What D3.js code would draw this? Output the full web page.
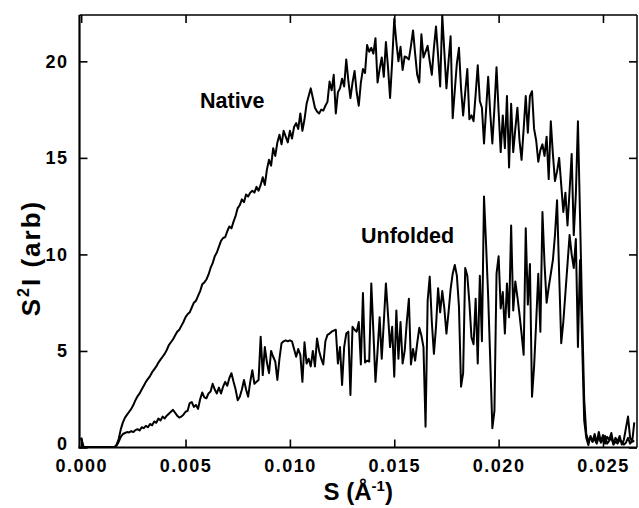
<!DOCTYPE html>
<html><head><meta charset="utf-8">
<script src="https://cdn.jsdelivr.net/npm/d3@7"></script>
<style>body{margin:0;background:#fff}svg{display:block}</style>
</head><body><svg id="c" width="639" height="508"></svg>
<script>
const sValues=[
0.0000,0.0001,0.0002,0.0003,0.0004,0.0005,0.0006,0.0007,0.0008,0.0009,
0.0010,0.0011,0.0012,0.0013,0.0014,0.0015,0.0016,0.0017,0.0018,0.0019,
0.0020,0.0021,0.0022,0.0023,0.0024,0.0025,0.0026,0.0027,0.0028,0.0029,
0.0030,0.0031,0.0032,0.0033,0.0034,0.0035,0.0036,0.0037,0.0038,0.0039,
0.0040,0.0041,0.0042,0.0043,0.0044,0.0045,0.0046,0.0047,0.0048,0.0049,
0.0050,0.0051,0.0052,0.0053,0.0054,0.0055,0.0056,0.0057,0.0058,0.0059,
0.0060,0.0061,0.0062,0.0063,0.0064,0.0065,0.0066,0.0067,0.0068,0.0069,
0.0070,0.0071,0.0072,0.0073,0.0074,0.0075,0.0076,0.0077,0.0078,0.0079,
0.0080,0.0081,0.0082,0.0083,0.0084,0.0085,0.0086,0.0087,0.0088,0.0089,
0.0090,0.0091,0.0092,0.0093,0.0094,0.0095,0.0096,0.0097,0.0098,0.0099,
0.0100,0.0101,0.0102,0.0103,0.0104,0.0105,0.0106,0.0107,0.0108,0.0109,
0.0110,0.0111,0.0112,0.0113,0.0114,0.0115,0.0116,0.0117,0.0118,0.0119,
0.0120,0.0121,0.0122,0.0123,0.0124,0.0125,0.0126,0.0127,0.0128,0.0129,
0.0130,0.0131,0.0132,0.0133,0.0134,0.0135,0.0136,0.0137,0.0138,0.0139,
0.0140,0.0141,0.0142,0.0143,0.0144,0.0145,0.0146,0.0147,0.0148,0.0149,
0.0150,0.0151,0.0152,0.0153,0.0154,0.0155,0.0156,0.0157,0.0158,0.0159,
0.0160,0.0161,0.0162,0.0163,0.0164,0.0165,0.0166,0.0167,0.0168,0.0169,
0.0170,0.0171,0.0172,0.0173,0.0174,0.0175,0.0176,0.0177,0.0178,0.0179,
0.0180,0.0181,0.0182,0.0183,0.0184,0.0185,0.0186,0.0187,0.0188,0.0189,
0.0190,0.0191,0.0192,0.0193,0.0194,0.0195,0.0196,0.0197,0.0198,0.0199,
0.0200,0.0201,0.0202,0.0203,0.0204,0.0205,0.0206,0.0207,0.0208,0.0209,
0.0210,0.0211,0.0212,0.0213,0.0214,0.0215,0.0216,0.0217,0.0218,0.0219,
0.0220,0.0221,0.0222,0.0223,0.0224,0.0225,0.0226,0.0227,0.0228,0.0229,
0.0230,0.0231,0.0232,0.0233,0.0234,0.0235,0.0236,0.0237,0.0238,0.0239,
0.0240,0.0241,0.0242,0.0243,0.0244,0.0245,0.0246,0.0247,0.0248,0.0249,
0.0250,0.0251,0.0252,0.0253,0.0254,0.0255,0.0256,0.0257,0.0258,0.0259,
0.0260,0.0261,0.0262,0.0263,0.0264,0.0265];

const nativeValues=[
0.5,0.05,0.02,0.02,0.02,0.02,0.02,0.02,0.02,0.02,
0.02,0.02,0.02,0.02,0.02,0.02,0.02,0.15,0.45,0.95,
1.3,1.55,1.7,1.85,2.0,2.2,2.45,2.65,2.8,3.0,
3.2,3.4,3.55,3.7,3.9,4.05,4.2,4.4,4.55,4.7,
4.85,5.05,5.3,5.45,5.6,5.8,6.0,6.1,6.3,6.5,
6.75,6.9,7.0,7.25,7.5,7.6,7.85,8.1,8.45,8.55,
8.7,8.95,9.3,9.55,9.9,10.1,10.4,10.7,10.85,10.9,
11.2,11.45,11.35,11.7,12.0,12.4,12.55,12.85,12.7,13.1,
13.0,13.2,13.3,13.2,13.5,13.3,13.6,14.0,13.6,14.4,
14.9,14.6,15.5,15.1,15.8,16.2,15.7,16.4,16.1,15.8,
16.4,16.0,16.6,16.8,16.5,17.3,16.4,17.0,17.8,18.2,
18.6,18.1,17.6,17.4,17.3,17.5,17.45,17.7,17.9,18.95,
18.5,19.3,17.3,18.4,18.6,19.1,18.7,20.1,19.0,18.1,
18.9,19.5,18.4,17.7,18.9,19.6,19.4,20.85,20.5,20.7,
20.4,21.2,18.9,19.6,20.2,19.2,21.0,19.7,18.1,20.0,
22.2,21.0,20.0,20.75,19.55,20.25,20.2,20.1,20.8,21.6,
20.4,19.3,18.9,21.4,20.2,20.5,20.8,20.0,19.3,20.7,
21.8,20.3,18.7,22.4,20.5,18.6,20.0,21.3,17.05,18.5,
19.9,20.7,18.6,17.2,18.4,19.6,17.0,17.2,16.9,18.3,
19.8,17.95,17.6,15.75,17.5,19.2,17.3,15.75,17.6,19.7,
17.4,15.3,17.2,15.5,18.2,14.5,17.8,15.3,16.5,17.6,
15.9,14.9,16.5,18.2,16.3,18.2,18.45,16.5,15.9,14.8,
15.4,15.7,15.1,16.1,13.9,16.9,15.2,13.8,14.3,15.0,
13.6,12.2,13.2,11.5,13.3,15.2,11.0,13.1,16.9,12.0,
7.0,2.5,0.7,0.35,0.5,0.3,0.45,0.2,0.55,0.25,
0.4,0.6,0.2,0.35,0.5,0.15,0.3,0.2,0.4,0.3,
0.15,0.25,0.5,0.2,0.35,0.3];

const unfoldedValues=[
0.5,0.05,0.02,0.02,0.02,0.02,0.02,0.02,0.02,0.02,
0.02,0.02,0.02,0.02,0.02,0.02,0.02,0.1,0.3,0.55,
0.7,0.75,0.8,0.78,0.85,0.8,0.9,0.95,0.88,1.05,
1.0,1.12,1.05,1.22,1.15,1.35,1.28,1.5,1.4,1.6,
1.5,1.65,1.75,1.85,1.95,1.8,1.65,1.55,1.6,1.7,
1.85,1.9,2.3,2.35,2.1,2.2,2.0,2.5,2.85,2.6,
2.55,2.8,2.9,3.3,3.0,2.8,3.1,2.8,3.15,3.4,
3.2,3.6,3.85,3.4,3.0,2.45,2.63,3.0,3.5,3.0,
2.63,3.4,4.0,3.3,3.4,3.5,5.74,3.75,5.2,4.4,
3.85,5.0,4.7,4.45,3.5,4.6,5.4,5.5,5.55,5.5,
5.55,5.5,5.1,4.7,5.1,4.8,3.4,5.45,4.35,4.6,
4.2,5.0,4.2,5.65,5.0,4.6,4.3,5.5,5.83,5.9,
6.0,6.05,6.1,4.35,5.2,3.24,5.2,5.9,6.0,2.72,
6.25,6.1,6.0,6.5,4.3,8.0,4.4,4.5,4.45,8.5,
6.0,3.4,5.0,6.75,4.6,6.5,8.5,6.9,5.2,6.25,
3.67,7.1,4.6,6.5,4.35,5.0,6.5,7.7,4.3,5.1,
4.5,5.4,6.2,5.8,5.2,1.08,7.6,8.85,6.5,4.85,
6.25,8.25,7.0,8.1,7.2,5.9,7.0,8.2,9.0,9.45,
8.9,7.3,3.15,3.85,9.3,8.9,7.5,5.7,5.35,7.7,
4.35,8.9,5.5,13.0,10.5,7.8,4.5,1.0,1.9,9.0,
9.9,7.2,8.05,5.9,8.5,6.75,11.5,7.1,8.6,7.8,
6.9,5.9,4.8,11.35,7.4,9.5,2.63,4.2,6.5,9.0,
6.0,12.2,9.5,7.5,8.3,9.0,9.7,11.0,12.8,9.0,
5.4,6.5,8.0,9.5,11.0,10.0,9.3,10.8,5.2,9.7,
5.5,1.4,0.5,0.13,0.6,0.3,0.7,0.25,0.8,0.3,
0.65,0.2,0.55,0.4,0.75,0.2,0.5,0.3,0.6,0.15,
0.4,1.0,1.6,0.5,0.3,1.3];

const xTickValues=[0,0.005,0.010,0.015,0.020,0.025];
const yTickValues=[0,5,10,15,20];
const seriesNames=["Native","Unfolded"];

const FONT="'Liberation Sans', Arial, Helvetica, sans-serif";
const svg=d3.select("#c");
const L=79.5,R=637,T=15,B=447.5;
const x=d3.scaleLinear().domain([-0.00008,0.02663]).range([L,R]);
const y=d3.scaleLinear().domain([0,22.4]).range([B,T]);

svg.append("defs").append("clipPath").attr("id","clip")
  .append("rect").attr("x",L).attr("y",T).attr("width",R-L).attr("height",B-T);

const line=d3.line().x((d,i)=>x(sValues[i])).y(d=>y(d));
const g=svg.append("g").attr("clip-path","url(#clip)");
[nativeValues,unfoldedValues].forEach(vals=>{
  g.append("path").datum(vals).attr("d",line)
   .attr("fill","none").attr("stroke","#000").attr("stroke-width",2)
   .attr("stroke-linejoin","round");
});

function styleAxis(sel){
  sel.select(".domain").remove();
  sel.selectAll(".tick line").attr("stroke","#000").attr("stroke-width",1.6);
  sel.selectAll("text").attr("font-family",FONT).attr("font-weight","bold")
     .attr("font-size",18).attr("fill","#000");
}
svg.append("g").attr("transform",`translate(0,${B})`)
  .call(d3.axisBottom(x).tickValues(xTickValues).tickFormat(d3.format(".3f"))
        .tickSizeInner(-8).tickSizeOuter(0).tickPadding(12))
  .call(styleAxis)
  .selectAll("text").attr("letter-spacing",1.5);
svg.append("g").attr("transform",`translate(0,${T})`)
  .call(d3.axisTop(x).tickValues(xTickValues).tickFormat("")
        .tickSizeInner(-8).tickSizeOuter(0))
  .call(styleAxis);
const yAxisG=svg.append("g").attr("transform",`translate(${L},0)`)
  .call(d3.axisLeft(y).tickValues(yTickValues).tickFormat(d3.format("d"))
        .tickSizeInner(-8).tickSizeOuter(0).tickPadding(11))
  .call(styleAxis);
yAxisG.selectAll("text").attr("letter-spacing",1.5);
yAxisG.selectAll(".tick").filter(d=>d===0).select("text").attr("dy","0.1em");
svg.append("g").attr("transform",`translate(${R},0)`)
  .call(d3.axisRight(y).tickValues(yTickValues).tickFormat("")
        .tickSizeInner(-8).tickSizeOuter(0))
  .call(styleAxis);

// frame
svg.append("line").attr("x1",L).attr("x2",L).attr("y1",T).attr("y2",B+1).attr("stroke","#000").attr("stroke-width",2.2);
svg.append("line").attr("x1",L-1).attr("x2",R).attr("y1",B).attr("y2",B).attr("stroke","#000").attr("stroke-width",2.2);
svg.append("line").attr("x1",L).attr("x2",R).attr("y1",T).attr("y2",T).attr("stroke","#000").attr("stroke-width",1.5);
svg.append("line").attr("x1",R).attr("x2",R).attr("y1",T).attr("y2",B).attr("stroke","#000").attr("stroke-width",1.5);

// series labels
const lab=[{t:seriesNames[0],x:200,y:108},{t:seriesNames[1],x:361,y:243}];
lab.forEach(d=>{
  svg.append("text").attr("x",d.x).attr("y",d.y).text(d.t)
   .attr("font-family",FONT).attr("font-weight","bold").attr("font-size",21.5).attr("fill","#000");
});

// x title
const xt=svg.append("text").attr("x",(L+R)/2).attr("y",500).attr("text-anchor","middle")
  .attr("font-family",FONT).attr("font-weight","bold").attr("font-size",24).attr("fill","#000");
xt.append("tspan").text("S (Å");
xt.append("tspan").text("-1").attr("font-size",15).attr("dy",-9);
xt.append("tspan").text(")").attr("dy",9);

// y title
const yt=svg.append("text").attr("transform",`translate(40,258) rotate(-90)`).attr("text-anchor","middle")
  .attr("font-family",FONT).attr("font-weight","bold").attr("font-size",26).attr("fill","#000")
  .attr("letter-spacing",2);
yt.append("tspan").text("S");
yt.append("tspan").text("2").attr("font-size",16).attr("dy",-11);
yt.append("tspan").text("I (arb)").attr("dy",11);
</script></body></html>
